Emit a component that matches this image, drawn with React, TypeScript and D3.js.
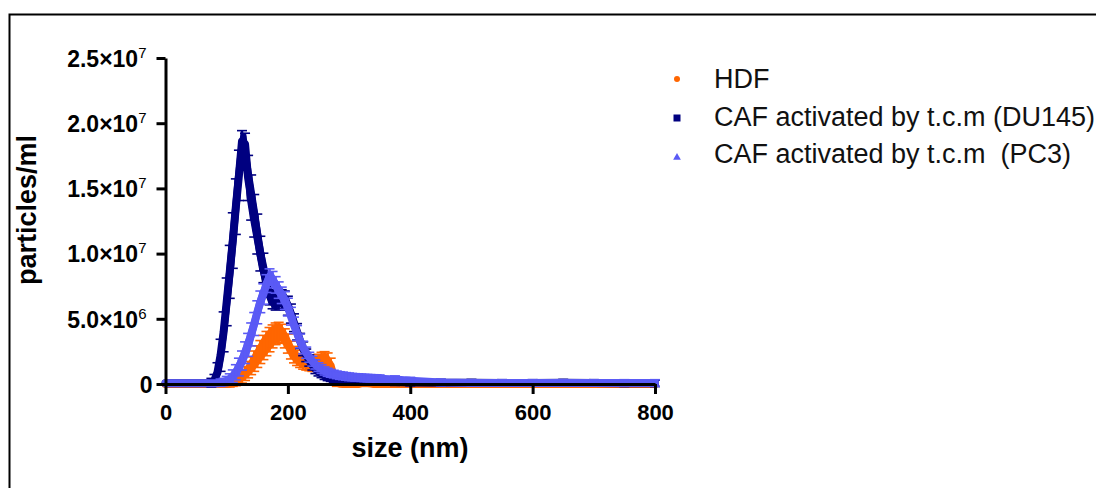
import React, { useEffect, useRef } from 'react'
import * as d3 from 'd3'

// particle size (nm)
const sizes = [
  0, 20, 40, 60, 65, 70,
  75, 80, 85, 90, 95, 100, 105, 110, 115, 120,
  125, 130, 135, 140, 145, 150, 155, 160, 165, 170,
  175, 180, 185, 190, 195, 200, 205, 210, 215, 220,
  225, 230, 235, 240, 245, 250, 255, 260, 265, 270,
  275, 280, 285, 290, 295, 300, 305, 310, 315, 320,
  325, 330, 335, 340, 345, 350,
  375, 400, 450, 500, 550, 600, 650, 700, 750, 800
]

// particles/ml, in units of 10^6
const hdf = [
  0, 0, 0, 0, 0, 0,
  0, 0, 0, 0, 0, 0, 0.02, 0.1, 0.2, 0.35,
  0.55, 0.8, 1.1, 1.4, 1.75, 2.1, 2.45, 2.8, 3.1, 3.4,
  3.65, 3.85, 3.95, 3.85, 3.5, 3.1, 2.6, 2.25, 2.0, 1.8,
  1.65, 1.55, 1.5, 1.5, 1.55, 1.65, 1.75, 1.8, 1.75, 1.4,
  0.5, 0.1, 0.02, 0, 0, 0, 0, 0, 0, 0.05,
  0.05, 0.05, 0.03, 0, 0, 0,
  0, 0, 0, 0, 0, 0, 0, 0, 0, 0
]
const hdfErr = [
  0, 0, 0, 0, 0, 0,
  0, 0, 0, 0, 0, 0, 0.02, 0.05, 0.1, 0.15,
  0.25, 0.3, 0.4, 0.45, 0.55, 0.6, 0.65, 0.7, 0.7, 0.7,
  0.65, 0.6, 0.55, 0.5, 0.5, 0.5, 0.45, 0.4, 0.35, 0.3,
  0.28, 0.25, 0.25, 0.3, 0.35, 0.4, 0.45, 0.45, 0.4, 0.35,
  0.2, 0.05, 0, 0, 0, 0, 0, 0, 0, 0,
  0, 0, 0, 0, 0, 0,
  0, 0, 0, 0, 0, 0, 0, 0, 0, 0
]

const du145 = [
  0.05, 0.05, 0.05, 0.05, 0.05, 0.05,
  0.1, 0.3, 0.9, 2.2, 4.0, 6.3, 8.6, 11.0, 13.6, 16.0,
  18.6, 18.4, 15.8, 14.3, 12.9, 11.5, 10.0, 8.9, 7.6, 6.9,
  6.5, 6.4, 6.5, 6.5, 6.4, 6.0, 5.4, 4.7, 4.0, 3.3,
  2.7, 2.2, 1.8, 1.45, 1.15, 0.95, 0.8, 0.65, 0.55, 0.48,
  0.42, 0.38, 0.35, 0.32, 0.3, 0.28, 0.27, 0.26, 0.25, 0.24,
  0.23, 0.22, 0.21, 0.2, 0.19, 0.18,
  0.15, 0.12, 0.1, 0.1, 0.08, 0.08, 0.1, 0.08, 0.06, 0.05
]
const du145Err = [
  0, 0, 0, 0, 0, 0,
  0.1, 0.2, 0.5, 1.0, 1.3, 1.6, 1.8, 1.9, 1.9, 1.7,
  0.6, 0.6, 1.5, 1.5, 1.4, 1.3, 1.1, 0.9, 0.7, 0.6,
  0.5, 0.5, 0.5, 0.5, 0.5, 0.5, 0.5, 0.45, 0.4, 0.35,
  0.3, 0.25, 0.2, 0.15, 0.12, 0.1, 0.08, 0.07, 0.06, 0.05,
  0.05, 0.05, 0.05, 0.05, 0.05, 0.05, 0.05, 0.05, 0.05, 0.05,
  0.04, 0.04, 0.04, 0.04, 0.04, 0.04,
  0.03, 0.03, 0.02, 0.02, 0.02, 0.02, 0.02, 0.02, 0.02, 0.02
]

const pc3 = [
  0.05, 0.05, 0.05, 0.05, 0.05, 0.05,
  0.05, 0.05, 0.05, 0.1, 0.15, 0.25, 0.4, 0.6, 0.9, 1.3,
  1.8, 2.4, 3.0, 3.8, 4.6, 5.5, 6.3, 6.9, 7.7, 8.2,
  8.0, 7.6, 7.2, 6.8, 6.4, 5.9, 5.2, 4.5, 3.9, 3.3,
  2.8, 2.4, 2.05, 1.75, 1.5, 1.3, 1.15, 1.0, 0.9, 0.82,
  0.76, 0.7, 0.65, 0.62, 0.58, 0.55, 0.53, 0.51, 0.5, 0.48,
  0.46, 0.45, 0.44, 0.43, 0.42, 0.41,
  0.35, 0.25, 0.12, 0.08, 0.08, 0.08, 0.08, 0.08, 0.08, 0.08
]
const pc3Err = [
  0, 0, 0, 0, 0, 0,
  0, 0, 0, 0.05, 0.05, 0.1, 0.15, 0.25, 0.35, 0.45,
  0.5, 0.6, 0.65, 0.65, 0.65, 0.65, 0.6, 0.55, 0.45, 0.4,
  0.4, 0.4, 0.4, 0.4, 0.45, 0.45, 0.45, 0.4, 0.35, 0.3,
  0.25, 0.2, 0.15, 0.15, 0.12, 0.1, 0.1, 0.08, 0.08, 0.07,
  0.06, 0.06, 0.06, 0.06, 0.06, 0.06, 0.05, 0.05, 0.05, 0.05,
  0.05, 0.05, 0.05, 0.05, 0.05, 0.05,
  0.04, 0.03, 0.02, 0.02, 0.02, 0.02, 0.02, 0.02, 0.02, 0.02
]

const seriesNames = ['HDF', 'CAF activated by t.c.m (DU145)', 'CAF activated by t.c.m  (PC3)']
const seriesColors = ['#ff6600', '#000080', '#5a5af5']
const seriesShapes = ['circle', 'square', 'triangle']

const xTicks = [0, 200, 400, 600, 800]
const yTicks = [0, 5, 10, 15, 20, 25]
const yTickBase = ['0', '5.0×10', '1.0×10', '1.5×10', '2.0×10', '2.5×10']
const yTickExp = ['', '6', '7', '7', '7', '7']

const W = 1096
const H = 488
const FONT = 'Arial, "Liberation Sans", sans-serif'

const x = d3.scaleLinear().domain([0, 800]).range([165.5, 655])
const y = d3.scaleLinear().domain([0, 25]).range([384, 58])

const Series = ({ vals, errs, color }) => {
  const pts = sizes.map((s, i) => ({ s, v: vals[i], e: errs[i] }))
  const line = d3.line().x(d => x(d.s)).y(d => y(d.v))
  const area = d3
    .area()
    .x(d => x(d.s))
    .y0(d => y(d.v - d.e))
    .y1(d => y(d.v + d.e))
  return (
    <g>
      <path d={area(pts)} fill={color} stroke={color} strokeWidth={3} strokeLinejoin="round" />
      <path
        d={line(pts)}
        fill="none"
        stroke={color}
        strokeWidth={8}
        strokeLinejoin="round"
        strokeLinecap="round"
      />
      {pts
        .filter(d => d.e > 0)
        .map((d, i) => {
          const cx = x(d.s)
          const top = y(d.v + d.e) - 3
          const bot = y(d.v - d.e) + 3
          return (
            <g key={i} stroke={color} strokeWidth={1.6}>
              <line x1={cx} x2={cx} y1={top} y2={bot} strokeWidth={2.5} />
              <line x1={cx - 5} x2={cx + 5} y1={top} y2={top} />
              <line x1={cx - 5} x2={cx + 5} y1={bot} y2={bot} />
            </g>
          )
        })}
    </g>
  )
}

const Marker = ({ shape, color, cx, cy }) => {
  if (shape === 'circle') return <circle cx={cx} cy={cy} r={3} fill={color} />
  if (shape === 'square') return <rect x={cx - 3.5} y={cy - 3.5} width={7} height={7} fill={color} />
  const sym = d3.symbol().type(d3.symbolTriangle).size(26)
  return <path d={sym()} transform={`translate(${cx},${cy + 0.5})`} fill={color} />
}

export default function App() {
  const xAxisRef = useRef(null)
  const yAxisRef = useRef(null)

  useEffect(() => {
    const gx = d3.select(xAxisRef.current)
    gx.selectAll('*').remove()
    gx.call(d3.axisBottom(x).tickValues(xTicks).tickSize(10).tickSizeOuter(0).tickFormat(d => `${d}`))
    gx.select('.domain').attr('stroke-width', 3)
    gx.selectAll('.tick line').attr('stroke-width', 3)
    gx
      .selectAll('.tick text')
      .attr('y', 36)
      .attr('dy', null)
      .attr('font-family', FONT)
      .attr('font-weight', 'bold')
      .attr('font-size', 22)
      .attr('fill', '#000')

    const gy = d3.select(yAxisRef.current)
    gy.selectAll('*').remove()
    gy.call(d3.axisLeft(y).tickValues(yTicks).tickSize(9).tickSizeOuter(0))
    gy.select('.domain').attr('stroke-width', 3)
    gy.selectAll('.tick line').attr('stroke-width', 3)
    gy.selectAll('.tick text').each(function (d, i) {
      const t = d3.select(this)
      t.text(null)
        .attr('x', i === 0 ? -13 : -19)
        .attr('dy', '0.36em')
        .attr('font-family', FONT)
        .attr('font-weight', 'bold')
        .attr('font-size', 23)
        .attr('fill', '#000')
      t.append('tspan').text(yTickBase[i])
      if (yTickExp[i]) {
        t.append('tspan').attr('dy', -9).attr('font-size', 15).attr('font-weight', 'normal').text(yTickExp[i])
      }
    })
  }, [])

  const vals = [hdf, du145, pc3]
  const errs = [hdfErr, du145Err, pc3Err]

  return (
    <svg
      width={W}
      height={H}
      style={{ position: 'absolute', left: 0, top: 0, background: '#fff' }}
    >
      <rect x={9.5} y={14.5} width={1200} height={600} fill="none" stroke="#000" strokeWidth={2} />

      {vals.map((v, i) => (
        <Series key={i} vals={v} errs={errs[i]} color={seriesColors[i]} />
      ))}

      <g ref={xAxisRef} transform="translate(0,384)" />
      <g ref={yAxisRef} transform="translate(165.5,0)" />

      <text
        x={410}
        y={457}
        textAnchor="middle"
        fontFamily={FONT}
        fontWeight="bold"
        fontSize={27}
      >
        size (nm)
      </text>
      <text
        transform="translate(36,210) rotate(-90)"
        textAnchor="middle"
        fontFamily={FONT}
        fontWeight="bold"
        fontSize={27}
      >
        particles/ml
      </text>

      {seriesNames.map((name, i) => (
        <g key={name}>
          <Marker shape={seriesShapes[i]} color={seriesColors[i]} cx={677} cy={79 + i * 39} />
          <text
            x={714}
            y={88 + i * 37.5}
            fontFamily={FONT}
            fontSize={27}
            fill="#111"
            style={{ whiteSpace: 'pre' }}
          >
            {name}
          </text>
        </g>
      ))}
    </svg>
  )
}
